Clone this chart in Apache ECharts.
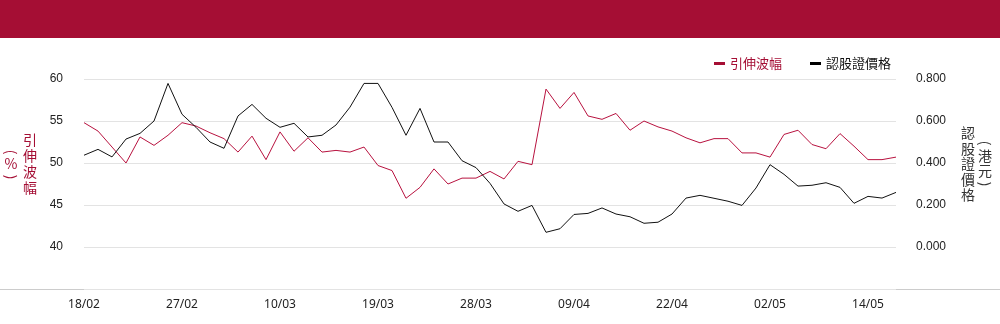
<!DOCTYPE html>
<html>
<head>
<meta charset="utf-8">
<script src="https://cdn.jsdelivr.net/npm/echarts@6/dist/echarts.min.js"></script>
<style>html,body{margin:0;padding:0;background:#fff}#c{width:1000px;height:324px}</style>
</head>
<body>
<div id="c"></div>
<script>
const dates = ['18/02','19/02','20/02','21/02','24/02','25/02','26/02','27/02','28/02','03/03','04/03','05/03','06/03','07/03','10/03','11/03','12/03','13/03','14/03','17/03','18/03','19/03','20/03','21/03','24/03','25/03','26/03','27/03','28/03','31/03','01/04','02/04','03/04','07/04','08/04','09/04','10/04','11/04','14/04','15/04','16/04','17/04','22/04','23/04','24/04','25/04','28/04','29/04','30/04','02/05','06/05','07/05','08/05','09/05','12/05','13/05','14/05','15/05','16/05'];
const impliedVol = [54.8,53.8,51.9,50.0,53.1,52.1,53.3,54.8,54.4,53.6,52.9,51.3,53.2,50.4,53.7,51.4,53.0,51.3,51.5,51.3,51.9,49.7,49.1,45.8,47.1,49.3,47.5,48.2,48.2,49.0,48.1,50.2,49.8,58.8,56.5,58.4,55.6,55.2,55.9,53.9,55.0,54.3,53.8,53.0,52.4,52.9,52.9,51.2,51.2,50.7,53.4,53.9,52.2,51.7,53.5,52.0,50.4,50.4,50.7];
const warrantPrice = [0.437,0.465,0.429,0.514,0.541,0.600,0.779,0.632,0.570,0.500,0.470,0.624,0.679,0.613,0.570,0.589,0.524,0.532,0.581,0.666,0.779,0.779,0.665,0.532,0.660,0.500,0.500,0.411,0.378,0.303,0.205,0.170,0.198,0.070,0.087,0.155,0.160,0.186,0.157,0.144,0.113,0.118,0.157,0.233,0.246,0.232,0.218,0.198,0.281,0.392,0.346,0.290,0.294,0.306,0.284,0.208,0.241,0.233,0.260];
const seriesNames = ['引伸波幅','認股證價格'];

const RED = '#A50E34';
const cjk = '"Noto Sans CJK TC", "Noto Sans", sans-serif';
function vtext(x, y, txt, fill, rot) {
  return {type: 'text', x: x, y: y, rotation: rot || 0,
    style: {text: txt, fill: fill, font: '14px ' + cjk, align: 'center', verticalAlign: 'middle'}, silent: true};
}
const chart = echarts.init(document.getElementById('c'), null, {renderer:'canvas'});
chart.setOption({
  animation: false,
  backgroundColor: '#fff',
  grid: {left: 84, right: 104, top: 79, bottom: 35, containLabel: false},
  legend: {
    right: 104, top: 52, icon: 'rect', itemWidth: 11, itemHeight: 3, itemGap: 28,
    textStyle: {fontSize: 13, fontFamily: cjk},
    data: [
      {name: seriesNames[0], textStyle: {color: RED}},
      {name: seriesNames[1], textStyle: {color: '#111'}}
    ]
  },
  xAxis: {
    type: 'category', data: dates, boundaryGap: false,
    axisLine: {show: false}, axisTick: {show: false},
    axisLabel: {interval: 6, color: '#222', fontSize: 12, fontFamily: '"Noto Sans", sans-serif', margin: 10}
  },
  yAxis: [
    {type: 'value', min: 35, max: 60, interval: 5,
     axisLine: {show: false}, axisTick: {show: false},
     splitLine: {lineStyle: {color: '#e3e3e3', width: 1}},
     axisLabel: {color: '#222', fontSize: 12, fontFamily: '"Liberation Sans", Arial, sans-serif', margin: 21,
       formatter: v => v === 35 ? '' : String(v)}},
    {type: 'value', min: -0.2, max: 0.8, interval: 0.2,
     axisLine: {show: false}, axisTick: {show: false}, splitLine: {show: false},
     axisLabel: {color: '#222', fontSize: 12, fontFamily: '"Liberation Sans", Arial, sans-serif', margin: 20,
       formatter: v => v < -0.1 ? '' : v.toFixed(3)}}
  ],
  series: [
    {name: seriesNames[0], type: 'line', data: impliedVol, yAxisIndex: 0, symbol: 'none',
     color: RED, lineStyle: {width: 1, color: '#B8123F'}},
    {name: seriesNames[1], type: 'line', data: warrantPrice, yAxisIndex: 1, symbol: 'none',
     color: '#000', lineStyle: {width: 1, color: '#111'}}
  ],
  graphic: [
    {type: 'rect', left: 0, top: 0, shape: {width: 1000, height: 38}, style: {fill: RED}, silent: true},
    {type: 'line', shape: {x1: 0, y1: 289.5, x2: 1000, y2: 289.5}, style: {stroke: '#cccccc', lineWidth: 1}, silent: true},
    {type: 'text', x: 30, y: 164, style: {text: '引\n伸\n波\n幅', fill: RED, font: '14px ' + cjk, lineHeight: 16, align: 'center', verticalAlign: 'middle'}, silent: true},
    vtext(11, 152, '(', RED, -Math.PI / 2),
    vtext(11, 164, '%', RED, 0),
    vtext(11, 177, ')', RED, -Math.PI / 2),
    {type: 'text', x: 968, y: 164, style: {text: '認\n股\n證\n價\n格', fill: '#333', font: '14px ' + cjk, lineHeight: 15.5, align: 'center', verticalAlign: 'middle'}, silent: true},
    vtext(985, 143, '(', '#333', -Math.PI / 2),
    {type: 'text', x: 985, y: 163, style: {text: '港\n元', fill: '#333', font: '14px ' + cjk, lineHeight: 15, align: 'center', verticalAlign: 'middle'}, silent: true},
    vtext(985, 184, ')', '#333', -Math.PI / 2)
  ]
});
</script>
</body>
</html>
